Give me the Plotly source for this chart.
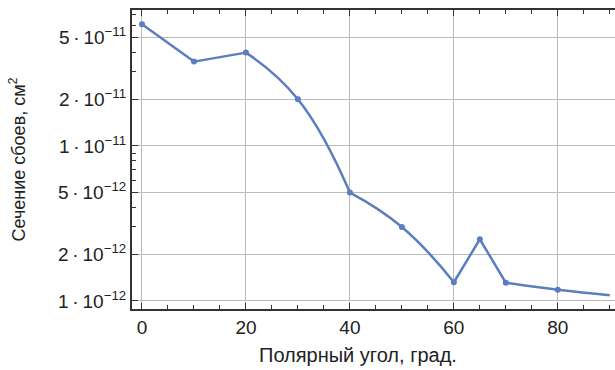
import plotly.graph_objects as go

angle = [0, 10, 20, 30, 40, 50, 60, 65, 70, 80, 90]
cross = [6.1e-11, 3.5e-11, 4.0e-11, 2.0e-11, 5.0e-12, 3.0e-12, 1.32e-12, 2.5e-12, 1.31e-12, 1.18e-12, 1.09e-12]
marked = 10  # number of measured points shown with markers
# angles where the drawn curve has a corner (curve pieces are smoothed between them)
corners = [0, 10, 20, 40, 60, 65, 70, 90]

ytick_vals = [1e-12, 2e-12, 5e-12, 1e-11, 2e-11, 5e-11]
ytick_text = ["1\u2009·\u200910<sup>−12</sup>", "2\u2009·\u200910<sup>−12</sup>", "5\u2009·\u200910<sup>−12</sup>",
              "1\u2009·\u200910<sup>−11</sup>", "2\u2009·\u200910<sup>−11</sup>", "5\u2009·\u200910<sup>−11</sup>"]
yminor_vals = [m * 10.0 ** e for e in (-13, -12, -11) for m in range(1, 10)]
xtick_vals = [0, 20, 40, 60, 80]
x_title = "Полярный угол, град."
y_title = "Сечение сбоев, см<sup>2</sup>"

color = "#5b7ebe"
FONT = "Liberation Sans, Arial, sans-serif"
fig = go.Figure()
for a, b in zip(corners[:-1], corners[1:]):
    idx = [i for i, v in enumerate(angle) if a <= v <= b]
    fig.add_trace(go.Scatter(x=[angle[i] for i in idx], y=[cross[i] for i in idx], mode="lines",
                             line=dict(color=color, width=2.5, shape="spline", smoothing=1.3),
                             hoverinfo="skip"))
fig.add_trace(go.Scatter(x=angle[:marked], y=cross[:marked], mode="markers",
                         marker=dict(color=color, size=6)))

axis_common = dict(showline=True, linecolor="#333333", linewidth=2,
                   ticks="inside", tickcolor="#333333", tickwidth=1, ticklen=6,
                   showgrid=True, gridcolor="#bbbbbb", gridwidth=1, zeroline=False,
                   tickfont=dict(family=FONT, size=19, color="#222222"))

fig.update_layout(
    width=615, height=370,
    margin=dict(l=132, r=0, t=10, b=61),
    paper_bgcolor="white", plot_bgcolor="white",
    showlegend=False,
    xaxis=dict(axis_common, range=[-1.92, 91.0], tickvals=xtick_vals, mirror="ticks",
               minor=dict(dtick=5, tick0=0, ticks="inside", ticklen=4, tickcolor="#333333", showgrid=False)),
    yaxis=dict(axis_common, type="log", range=[-12.052, -10.123],
               tickvals=ytick_vals, ticktext=ytick_text,
               minor=dict(tickvals=yminor_vals, ticks="inside", ticklen=4, tickcolor="#333333", showgrid=False)),
    annotations=[
        dict(text=x_title, xref="paper", yref="paper", x=0.468, y=-0.153, xanchor="center", yanchor="middle",
             showarrow=False, font=dict(family=FONT, size=20, color="#222222")),
        dict(text=y_title, xref="paper", yref="paper", x=-0.236, y=0.5, xanchor="center", yanchor="middle",
             textangle=-90, showarrow=False, font=dict(family=FONT, size=18, color="#222222")),
    ],
)
fig.write_html("out.html", config={"displayModeBar": False},
               post_script="document.body.style.margin='0';document.body.style.overflow='hidden';")
